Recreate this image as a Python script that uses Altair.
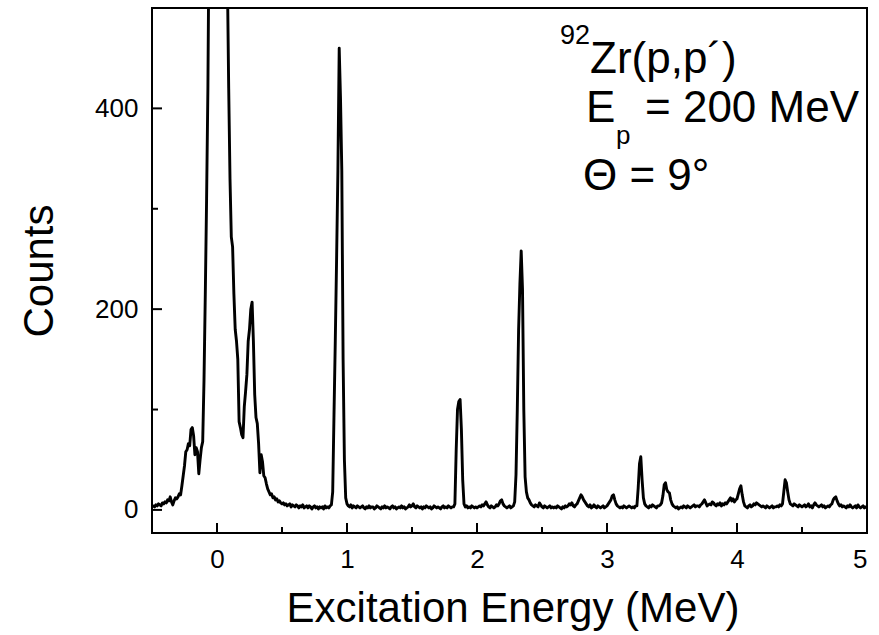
import numpy as np
import pandas as pd
import altair as alt

# Spectrum channels: excitation energy from -0.50 MeV in 0.01 MeV bins
E_START = -0.50
E_STEP = 0.01

counts = [
    # -0.50 .. -0.41
    3, 4, 3, 5, 4, 6, 5, 4, 7, 6,
    # -0.40 .. -0.31
    8, 7, 10, 9, 13, 8, 5, 9, 12, 11,
    # -0.30 .. -0.21
    13, 16, 15, 24, 34, 44, 58, 60, 66, 64,
    # -0.20 .. -0.11
    80, 82, 74, 55, 62, 58, 36, 50, 62, 68,
    # -0.10 .. -0.01  (elastic peak, off scale)
    129, 215, 310, 420, 600, 900, 1300, 1700, 2100, 2500,
    # 0.00 .. 0.09
    2800, 2900, 2700, 2300, 1800, 1300, 950, 700, 530, 420,
    # 0.10 .. 0.19
    330, 272, 262, 215, 180, 168, 150, 88, 82, 75,
    # 0.20 .. 0.29
    72, 103, 118, 135, 168, 180, 200, 207, 168, 115,
    # 0.30 .. 0.39
    92, 86, 66, 37, 55, 48, 34, 32, 26, 21,
    # 0.40 .. 0.49
    18, 15, 16, 12, 13, 10, 11, 8, 9, 7,
    # 0.50 .. 0.59
    6, 7, 5, 6, 4, 5, 6, 3, 5, 4,
    # 0.60 .. 0.69
    3, 5, 4, 2, 4, 3, 5, 2, 3, 4,
    # 0.70 .. 0.79
    2, 4, 3, 1, 3, 4, 2, 3, 1, 3,
    # 0.80 .. 0.89
    2, 3, 1, 4, 2, 3, 2, 4, 5, 18,
    # 0.90 .. 0.99
    95, 169, 250, 338, 460, 410, 338, 150, 50, 12,
    # 1.00 .. 1.09
    6, 4, 3, 5, 2, 4, 3, 2, 4, 3,
    # 1.10 .. 1.19
    2, 3, 4, 2, 1, 3, 2, 4, 2, 3,
    # 1.20 .. 1.29
    3, 1, 2, 4, 3, 2, 1, 3, 2, 4,
    # 1.30 .. 1.39
    2, 3, 2, 1, 3, 4, 2, 3, 1, 2,
    # 1.40 .. 1.49
    3, 2, 4, 2, 3, 1, 2, 3, 5, 3,
    # 1.50 .. 1.59
    4, 6, 3, 2, 4, 3, 2, 3, 1, 3,
    # 1.60 .. 1.69
    2, 4, 3, 2, 3, 1, 2, 4, 3, 2,
    # 1.70 .. 1.79
    3, 2, 1, 3, 4, 2, 3, 2, 4, 3,
    # 1.80 .. 1.89
    2, 3, 3, 6, 60, 100, 108, 110, 80, 30,
    # 1.90 .. 1.99
    6, 3, 4, 2, 3, 2, 4, 3, 2, 3,
    # 2.00 .. 2.09
    2, 3, 4, 3, 5, 4, 6, 8, 5, 3,
    # 2.10 .. 2.19
    2, 4, 3, 2, 3, 5, 4, 6, 9, 10,
    # 2.20 .. 2.29
    6, 4, 3, 2, 3, 4, 2, 3, 4, 8,
    # 2.30 .. 2.39
    35, 100, 179, 225, 258, 220, 100, 33, 18, 12,
    # 2.40 .. 2.49
    10, 7, 5, 4, 3, 5, 4, 3, 7, 5,
    # 2.50 .. 2.59
    3, 2, 4, 3, 2, 3, 4, 2, 3, 2,
    # 2.60 .. 2.69
    3, 2, 4, 3, 2, 1, 3, 2, 4, 3,
    # 2.70 .. 2.79
    4, 6, 5, 7, 4, 3, 5, 6, 9, 12,
    # 2.80 .. 2.89
    15, 13, 10, 8, 6, 4, 3, 5, 2, 3,
    # 2.90 .. 2.99
    5, 3, 2, 4, 3, 2, 3, 4, 2, 3,
    # 3.00 .. 3.09
    4, 6, 8, 10, 14, 15, 10, 6, 4, 3,
    # 3.10 .. 3.19
    2, 3, 2, 4, 3, 2, 3, 4, 3, 2,
    # 3.20 .. 3.29
    3, 2, 4, 4, 22, 46, 53, 30, 12, 6,
    # 3.30 .. 3.39
    4, 3, 2, 4, 3, 5, 4, 3, 2, 4,
    # 3.40 .. 3.49
    4, 5, 7, 14, 25, 27, 20, 18, 17, 10,
    # 3.50 .. 3.59
    6, 4, 3, 2, 3, 1, 2, 3, 2, 4,
    # 3.60 .. 3.69
    3, 2, 4, 3, 2, 3, 4, 5, 3, 4,
    # 3.70 .. 3.79
    4, 3, 5, 6, 8, 10, 7, 4, 5, 6,
    # 3.80 .. 3.89
    5, 8, 7, 5, 4, 6, 5, 7, 4, 6,
    # 3.90 .. 3.99
    5, 7, 6, 8, 10, 12, 9, 11, 8, 10,
    # 4.00 .. 4.09
    11, 16, 21, 24, 15, 8, 4, 3, 2, 4,
    # 4.10 .. 4.19
    5, 3, 4, 6, 5, 7, 6, 5, 4, 3,
    # 4.20 .. 4.29
    4, 3, 2, 4, 3, 2, 3, 4, 2, 3,
    # 4.30 .. 4.39
    3, 4, 3, 5, 4, 6, 18, 30, 27, 18,
    # 4.40 .. 4.49
    10, 6, 5, 4, 6, 5, 4, 3, 5, 4,
    # 4.50 .. 4.59
    3, 4, 5, 3, 4, 6, 3, 4, 2, 5,
    # 4.60 .. 4.69
    7, 5, 4, 3, 4, 5, 3, 4, 2, 3,
    # 4.70 .. 4.79
    4, 3, 5, 6, 10, 12, 13, 9, 6, 4,
    # 4.80 .. 4.89
    5, 3, 4, 3, 2, 4, 3, 5, 3, 2,
    # 4.90 .. 4.99
    3, 4, 2, 5, 3, 2, 3, 4, 2, 3,
    # 5.00
    2,
]

x_major = [0, 1, 2, 3, 4, 5]
x_minor = [0.5, 1.5, 2.5, 3.5, 4.5]
y_major = [0, 200, 400]
y_minor = [100, 300]

energy = np.round(E_START + E_STEP * np.arange(len(counts)), 2)
df = pd.DataFrame({"energy": energy, "counts": counts})

W, H = 715, 525
FONT = "Liberation Sans"

x_scale = alt.Scale(domain=[-0.5, 5], nice=False, zero=False)
y_scale = alt.Scale(domain=[-23, 500], nice=False, zero=False)

x_axis = alt.Axis(
    values=x_major, title="Excitation Energy (MeV)", format="d",
    titleX=W / 2 + 3, titleY=88, titleBaseline="alphabetic",
    labelPadding=13,
)
y_axis = alt.Axis(
    values=y_major, title="Counts", format="d",
    titleX=-100, titleY=H / 2, titleBaseline="alphabetic",
    titleAngle=270, labelPadding=14,
)

spectrum = alt.Chart(df).mark_line(
    color="black", strokeWidth=2.9, clip=True, strokeJoin="round"
).encode(
    x=alt.X("energy:Q", scale=x_scale, axis=x_axis),
    y=alt.Y("counts:Q", scale=y_scale, axis=y_axis),
)

# Inward-pointing tick marks
def x_ticks(vals, length):
    return alt.Chart(pd.DataFrame({"energy": vals})).mark_rule(
        color="black", strokeWidth=2
    ).encode(
        x=alt.X("energy:Q", scale=x_scale, axis=x_axis),
        y=alt.value(H), y2=alt.value(H - length),
    )

def y_ticks(vals, length):
    return alt.Chart(pd.DataFrame({"counts": vals})).mark_rule(
        color="black", strokeWidth=2
    ).encode(
        y=alt.Y("counts:Q", scale=y_scale, axis=y_axis),
        x=alt.value(0), x2=alt.value(length),
    )

def label(text, px, py, size):
    return alt.Chart(pd.DataFrame({"k": [0]})).mark_text(
        align="left", baseline="alphabetic", font=FONT, fontSize=size,
        color="black",
    ).encode(x=alt.value(px), y=alt.value(py), text=alt.value(text))

# Reaction annotation (offsets are relative to the plot origin)
OX, OY = 152, 8
annotation = [
    label("92", 560 - OX, 44 - OY, 27),
    label("Zr(p,p´)", 590 - OX, 73 - OY, 44),
    label("E", 586 - OX, 122 - OY, 44),
    label("p", 616 - OX, 144 - OY, 26),
    label("= 200 MeV", 645 - OX, 122 - OY, 44),
    label("Θ = 9°", 583 - OX, 190 - OY, 44),
]

chart = alt.layer(
    spectrum,
    x_ticks(x_major, 10), x_ticks(x_minor, 6),
    y_ticks(y_major, 10), y_ticks(y_minor, 6),
    *annotation,
).properties(
    width=W, height=H,
    padding={"left": 152, "top": 8, "right": 12, "bottom": 102},
    autosize=alt.AutoSizeParams(type="none"),
).configure_view(
    stroke="black", strokeWidth=2,
).configure_axis(
    domain=False, ticks=False, grid=False,
    labelFont=FONT, labelFontSize=26, labelColor="black",
    titleFont=FONT, titleFontSize=42, titleColor="black", titleFontWeight="normal",
)

chart.save("out.html", embed_options={"renderer": "svg", "actions": False})
